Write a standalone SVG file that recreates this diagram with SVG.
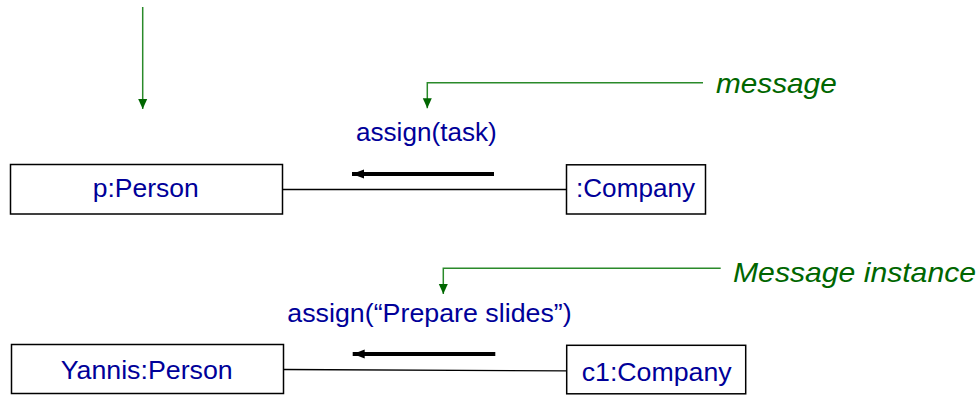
<svg xmlns="http://www.w3.org/2000/svg" width="979" height="395" viewBox="0 0 979 395">
  <style>
    .box { fill: #ffffff; stroke: #000000; stroke-width: 1.5; }
    .name { font-family: "Liberation Sans", Arial, sans-serif; font-size: 26px; fill: #000099; text-anchor: middle; }
    .msg { font-family: "Liberation Sans", Arial, sans-serif; font-size: 26px; fill: #000099; }
    .note { font-family: "Liberation Sans", Arial, sans-serif; font-size: 28px; font-style: italic; fill: #006600; }
    .link { stroke: #000000; stroke-width: 1.3; fill: none; }
    .pointer { stroke: #2a8a2a; stroke-width: 1.5; fill: none; marker-end: url(#greenHead); }
    .flow { stroke: #000000; stroke-width: 4; fill: none; marker-end: url(#blackHead); }
  </style>
  <defs>
    <marker id="greenHead" markerUnits="userSpaceOnUse" markerWidth="10" markerHeight="10" refX="10" refY="5" orient="auto">
      <path d="M0,0.5 L10,5 L0,9.5 Z" fill="#006600"/>
    </marker>
    <marker id="blackHead" markerUnits="userSpaceOnUse" markerWidth="12" markerHeight="10" refX="12" refY="5" orient="auto">
      <path d="M0,0.5 L12,5 L0,9.5 Z" fill="#000000"/>
    </marker>
  </defs>

  <rect width="979" height="395" fill="#ffffff"/>

  <g id="connectors">
    <!-- pointer from above into the first object -->
    <line class="pointer" x1="142.7" y1="7" x2="142.7" y2="109"/>
    <!-- annotation pointers -->
    <polyline class="pointer" points="703,82.7 427.3,82.7 427.3,108.3"/>
    <polyline class="pointer" points="720.7,268.3 443.3,268.3 443.3,294"/>
    <!-- associations between objects -->
    <line class="link" x1="282.5" y1="189.5" x2="566.5" y2="189.5"/>
    <line class="link" x1="283.5" y1="369.5" x2="566.7" y2="370.8"/>
    <!-- message direction arrows -->
    <line class="flow" x1="494" y1="174" x2="352" y2="174"/>
    <line class="flow" x1="495.3" y1="354" x2="352.7" y2="354"/>
  </g>

  <g id="label-assign-task">
    <text class="msg" x="356" y="141" textLength="140.7" lengthAdjust="spacingAndGlyphs">assign(task)</text>
  </g>
  <g id="label-assign-slides">
    <text class="msg" x="287.3" y="321.7" textLength="284.4" lengthAdjust="spacingAndGlyphs">assign(“Prepare slides”)</text>
  </g>
  <g id="note-message">
    <text class="note" x="716" y="93" textLength="120.7" lengthAdjust="spacingAndGlyphs">message</text>
  </g>
  <g id="note-message-instance">
    <text class="note" x="733" y="281.7" textLength="243" lengthAdjust="spacingAndGlyphs">Message instance</text>
  </g>

  <g id="node-p-person">
    <rect class="box" x="10.5" y="164.5" width="272" height="49.5"/>
    <text class="name" x="145.7" y="197" textLength="106" lengthAdjust="spacingAndGlyphs">p:Person</text>
  </g>
  <g id="node-company">
    <rect class="box" x="566.5" y="164.8" width="139" height="49.2"/>
    <text class="name" x="635.5" y="197" textLength="119" lengthAdjust="spacingAndGlyphs">:Company</text>
  </g>
  <g id="node-yannis-person">
    <rect class="box" x="11.5" y="344.5" width="272" height="49"/>
    <text class="name" x="146.7" y="379" textLength="172" lengthAdjust="spacingAndGlyphs">Yannis:Person</text>
  </g>
  <g id="node-c1-company">
    <rect class="box" x="566.7" y="345.3" width="179" height="48.5"/>
    <text class="name" x="656.7" y="380.5" textLength="150" lengthAdjust="spacingAndGlyphs">c1:Company</text>
  </g>
</svg>
